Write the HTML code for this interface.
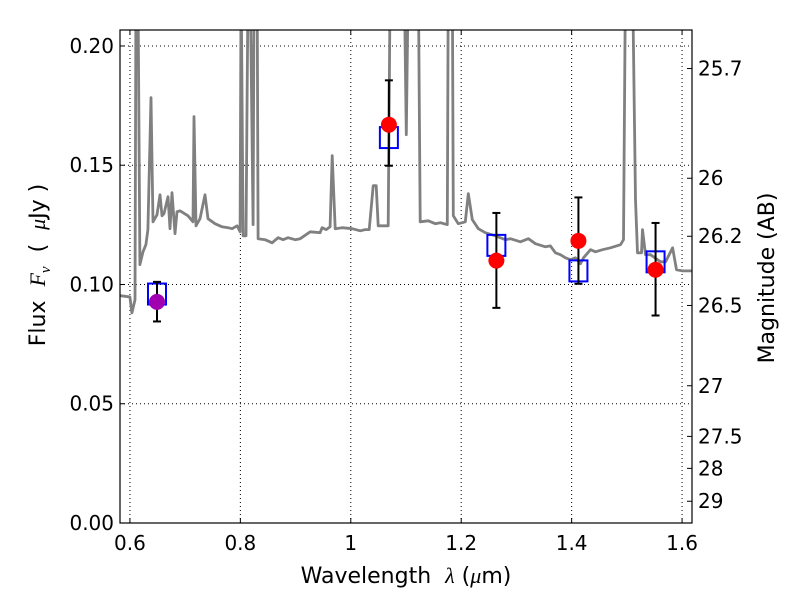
<!DOCTYPE html>
<html><head><meta charset="utf-8"><style>
body{margin:0;background:#fff;}
svg{display:block;font-family:"DejaVu Sans","Liberation Sans",sans-serif;}
</style></head><body>
<svg id="c" width="800" height="600"></svg>
<script>
const specLam=[0.5819,0.600,0.6036,0.6091,0.6109,0.6145,0.6181,0.6236,0.6290,0.6326,0.6381,0.6417,0.6490,0.6544,0.6580,0.6617,0.6689,0.6725,0.6762,0.6816,0.6852,0.6907,0.7052,0.7142,0.7160,0.7197,0.7269,0.7360,0.7414,0.7541,0.7668,0.7777,0.7850,0.7940,0.7995,0.8013,0.8049,0.8103,0.8140,0.8176,0.8230,0.8248,0.8303,0.8321,0.8448,0.8575,0.8684,0.8774,0.8865,0.8992,0.9083,0.9264,0.9445,0.9481,0.9554,0.9626,0.9663,0.9717,0.9844,1.0025,1.0170,1.0261,1.0334,1.0406,1.0461,1.0497,1.0678,1.0714,1.0968,1.1005,1.1041,1.1222,1.1258,1.1403,1.1530,1.1621,1.1748,1.1766,1.1838,1.1857,1.1947,1.2020,1.2074,1.2129,1.2201,1.2310,1.2437,1.2618,1.2800,1.2890,1.3072,1.3217,1.3344,1.3525,1.3616,1.3706,1.3797,1.3888,1.3978,1.4069,1.4160,1.4214,1.4341,1.4432,1.4559,1.4704,1.4885,1.4940,1.4976,1.5102,1.5157,1.5193,1.5266,1.5284,1.5338,1.5429,1.5611,1.5701,1.5828,1.5900,1.6009,1.618];
const specFlux=[0.0953,0.0948,0.0881,0.0936,0.23,0.23,0.1083,0.1137,0.1167,0.1230,0.1783,0.1263,0.1292,0.1376,0.1288,0.1297,0.1368,0.1234,0.1385,0.1213,0.1305,0.1309,0.1288,0.1263,0.1704,0.1246,0.1276,0.1376,0.1276,0.1255,0.1242,0.1238,0.1234,0.1246,0.1221,0.23,0.1204,0.1204,0.23,0.23,0.1251,0.23,0.23,0.1192,0.1188,0.1175,0.1196,0.1188,0.1196,0.1188,0.1192,0.1221,0.1217,0.1238,0.1230,0.1242,0.1540,0.1234,0.1238,0.1234,0.1225,0.1230,0.1230,0.1414,0.1414,0.1246,0.1246,0.23,0.23,0.1628,0.23,0.23,0.1263,0.1267,0.1255,0.1259,0.1251,0.23,0.23,0.1288,0.1255,0.1259,0.1263,0.1381,0.1272,0.1234,0.1217,0.1204,0.1188,0.1192,0.1179,0.1192,0.1171,0.1158,0.1162,0.1133,0.1125,0.1112,0.1104,0.1112,0.1087,0.1112,0.1146,0.1137,0.1146,0.1154,0.1167,0.1188,0.23,0.23,0.1355,0.1133,0.1133,0.1230,0.1125,0.1125,0.1095,0.1095,0.1154,0.1062,0.1057,0.1057];
const obsLam=[0.649,1.0690,1.2637,1.4123,1.552];
const obsFlux=[0.0927,0.167,0.110,0.1183,0.1062];
const obsErrLo=[0.0845,0.1498,0.0902,0.1003,0.0870];
const obsErrHi=[0.1011,0.1856,0.130,0.1365,0.1258];
const modelFlux=[0.096,0.1616,0.1164,0.1057,0.1095];
const obsColors=['#a000b0','red','red','red','red'];
const xTicks=[0.6,0.8,1.0,1.2,1.4,1.6];
const xTickLabels=['0.6','0.8','1','1.2','1.4','1.6'];
const yTicks=[0,0.05,0.1,0.15,0.2];
const yTickLabels=['0.00','0.05','0.10','0.15','0.20'];
const magTicks=[25.7,26,26.2,26.5,27,27.5,28,29];

const L=120,R=692,T=30,B=523,xmin=0.582,xmax=1.618,ymin=0,ymax=0.2067;
const X=v=>L+(v-xmin)/(xmax-xmin)*(R-L);
const Y=v=>B-(v-ymin)/(ymax-ymin)*(B-T);
const NS='http://www.w3.org/2000/svg';
const svg=document.getElementById('c');
function mk(tag,attrs,parent){const e=document.createElementNS(NS,tag);for(const k in attrs)e.setAttribute(k,attrs[k]);(parent||svg).appendChild(e);return e;}
const defs=mk('defs',{});const cp=mk('clipPath',{id:'clip'},defs);mk('rect',{x:L,y:T,width:R-L,height:B-T},cp);

xTicks.forEach((t,i)=>{
 const g=mk('line',{x1:X(t),x2:X(t),y1:T,y2:B,stroke:'#000','stroke-dasharray':'1,3','stroke-width':1});
 
 
 mk('line',{x1:X(t),x2:X(t),y1:B,y2:B-5,stroke:'#000'});
 mk('line',{x1:X(t),x2:X(t),y1:T,y2:T+5,stroke:'#000'});
 const tx=mk('text',{x:X(t),y:B+27,'text-anchor':'middle','font-size':20});tx.textContent=xTickLabels[i];
 
 
});
yTicks.forEach((t,i)=>{
 const g=mk('line',{x1:L,x2:R,y1:Y(t),y2:Y(t),stroke:'#000','stroke-dasharray':'1,3','stroke-width':1});
 
 
 mk('line',{x1:L,x2:L+5,y1:Y(t),y2:Y(t),stroke:'#000'});
 const tx=mk('text',{x:L-6,y:Y(t)+7,'text-anchor':'end','font-size':20});tx.textContent=yTickLabels[i];
 
 
});
magTicks.forEach(m=>{
 const f=Math.pow(10,(23.9-m)/2.5);const y=Y(f);
 mk('line',{x1:R,x2:R-5,y1:y,y2:y,stroke:'#000'});
 const tx=mk('text',{x:R+6,y:y+7,'font-size':20});tx.textContent=String(m);
 
 
});

const pts=specLam.map((l,i)=>X(l).toFixed(1)+','+Y(specFlux[i]).toFixed(1)).join(' ');
const sp=mk('polyline',{points:pts,fill:'none',stroke:'#808080','stroke-width':2.8,'clip-path':'url(#clip)','stroke-linejoin':'round'});



obsLam.forEach((l,i)=>{
 const b=mk('rect',{x:X(l)-9,y:Y(modelFlux[i])-10.5,width:18,height:21,fill:'none',stroke:'#0000ff','stroke-width':2});
 
 
});
obsLam.forEach((l,i)=>{
 const x=X(l);
 const e=mk('g',{stroke:'#000','stroke-width':2});
 
 
 mk('line',{x1:x,x2:x,y1:Y(obsErrLo[i]),y2:Y(obsErrHi[i])},e);
 mk('line',{x1:x-4,x2:x+4,y1:Y(obsErrLo[i]),y2:Y(obsErrLo[i])},e);
 mk('line',{x1:x-4,x2:x+4,y1:Y(obsErrHi[i]),y2:Y(obsErrHi[i])},e);
 const c=mk('circle',{cx:x,cy:Y(obsFlux[i]),r:8,fill:obsColors[i]});
 
 
});
const fr=mk('rect',{x:L,y:T,width:R-L,height:B-T,fill:'none',stroke:'#000','stroke-width':1.2});


const xl=mk('text',{x:(L+R)/2,y:583,'text-anchor':'middle','font-size':22});
xl.innerHTML='Wavelength\u00a0\u00a0<tspan font-family="Liberation Serif,serif" font-style="italic">λ</tspan>\u00a0(<tspan font-family="Liberation Serif,serif" font-style="italic">μ</tspan>m)';


const yl=mk('text',{x:0,y:0,'text-anchor':'middle','font-size':22,transform:'translate(45,265) rotate(-90)'});
yl.innerHTML='Flux\u00a0\u00a0<tspan font-family="Liberation Serif,serif" font-style="italic">F<tspan font-size="15" dy="5">ν</tspan></tspan><tspan dy="-5">\u00a0\u00a0(\u00a0\u00a0</tspan><tspan font-family="Liberation Serif,serif" font-style="italic">μ</tspan>Jy\u00a0)';


const rl=mk('text',{x:0,y:0,'text-anchor':'middle','font-size':22,transform:'translate(774,278) rotate(-90)'});
rl.textContent='Magnitude (AB)';


</script>
</body></html>
